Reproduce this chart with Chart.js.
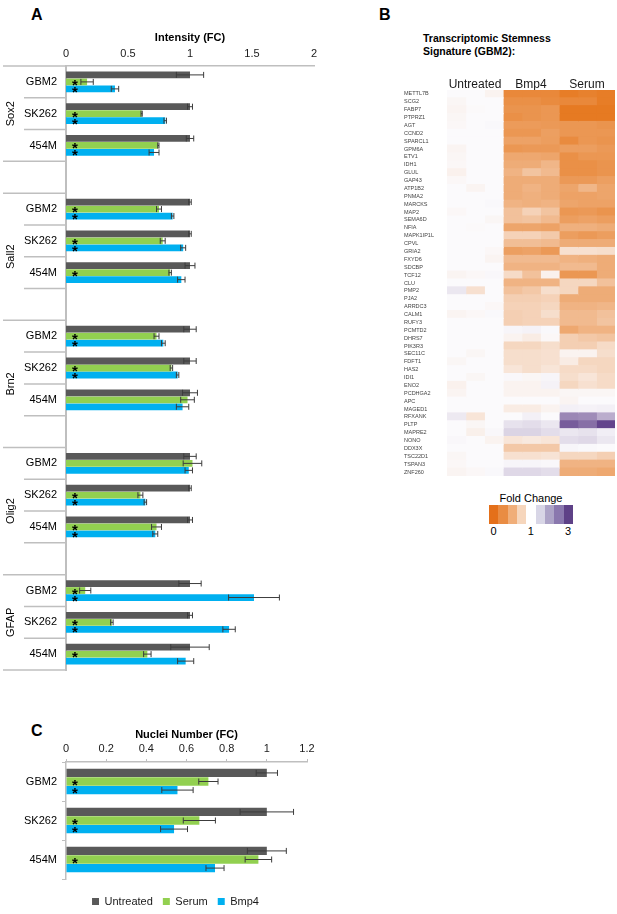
<!DOCTYPE html>
<html><head><meta charset="utf-8">
<script src="https://cdn.jsdelivr.net/npm/chart.js@4.4.1/dist/chart.umd.min.js"></script>
<style>
html,body{margin:0;padding:0;background:#fff;}
body{width:617px;height:914px;position:relative;overflow:hidden;font-family:"Liberation Sans",Arial,sans-serif;color:#000;}
canvas{position:absolute;}
.pl{position:absolute;font-weight:bold;font-size:16px;line-height:16px;}
.t{position:absolute;white-space:nowrap;}
</style></head><body>
<div class="pl" style="left:31px;top:7px">A</div>
<div class="pl" style="left:379px;top:7px">B</div>
<div class="pl" style="left:31px;top:723px">C</div>
<div class="t" style="left:423px;top:32px;font-weight:bold;font-size:10.5px;line-height:13px">Transcriptomic Stemness<br>Signature (GBM2):</div>
<div class="t" style="left:489px;top:492px;width:84px;text-align:center;font-size:11px;line-height:12px">Fold Change</div>
<div id="fckey" style="position:absolute;left:489px;top:505px;height:19px;display:flex"></div>
<div id="fcticks"></div>
<canvas id="ca" width="330" height="690" style="left:0;top:0"></canvas>
<canvas id="cb" width="237" height="480" style="left:380px;top:0"></canvas>
<canvas id="cc" width="330" height="220" style="left:0;top:700px"></canvas>
<script>
// ---------- Panel A data ----------
const labelsA = ['GBM2','SK262','454M','', 'GBM2','SK262','454M','', 'GBM2','SK262','454M','', 'GBM2','SK262','454M','', 'GBM2','SK262','454M'];
const markersA = ['Sox2','Sall2','Brn2','Olig2','GFAP'];
const markerFirstA = [0,4,8,12,16];
const markerLastA  = [2,7,11,15,18];
const groupBoundaryAfterA = [-1,2,3,7,11,15,18];
const untreatedA    = [1.00,1.00,1.00,null, 1.00,1.00,1.00,null, 1.00,1.00,1.00,null, 1.00,1.00,1.00,null, 1.00,1.00,1.00];
const untreatedErrA = [0.11,0.02,0.03,null, 0.01,0.01,0.04,null, 0.05,0.05,0.06,null, 0.05,0.01,0.02,null, 0.09,0.02,0.155];
const serumA        = [0.17,0.61,0.745,null, 0.75,0.78,0.84,null, 0.73,0.85,0.98,null, 1.02,0.60,0.73,null, 0.155,0.37,0.656];
const serumErrA     = [0.05,0.005,0.005,null, 0.02,0.02,0.01,null, 0.02,0.01,0.055,null, 0.075,0.02,0.04,null, 0.045,0.01,0.03];
const bmp4A         = [0.395,0.80,0.71,null, 0.86,0.945,0.93,null, 0.785,0.90,0.94,null, 0.99,0.64,0.72,null, 1.516,1.315,0.965];
const bmp4ErrA      = [0.03,0.01,0.04,null, 0.01,0.02,0.03,null, 0.015,0.01,0.05,null, 0.03,0.01,0.02,null, 0.205,0.05,0.065];
const serumSigA     = [1,1,1,0, 1,1,1,0, 1,1,0,0, 0,1,1,0, 1,1,1];
const bmp4SigA      = [1,1,1,0, 1,1,0,0, 1,1,0,0, 0,1,1,0, 1,1,0];
const ticksA = ['0','0.5','1','1.5','2'];

// ---------- Panel C data ----------
const labelsC = ['GBM2','SK262','454M'];
const untreatedC    = [1.00,1.00,1.00];
const untreatedErrC = [0.053,0.133,0.097];
const serumC        = [0.709,0.664,0.958];
const serumErrC     = [0.048,0.08,0.066];
const bmp4C         = [0.555,0.538,0.742];
const bmp4ErrC      = [0.078,0.067,0.045];
const serumSigC     = [1,1,1];
const bmp4SigC      = [1,1,0];

// ---------- Panel B data ----------
const genes = ['METTL7B','SCG2','FABP7','PTPRZ1','AGT','CCND2','SPARCL1','GPM6A','ETV1','IDH1','GLUL','GAP43','ATP1B2','PNMA2','MARCKS','MAP2','SEMA6D','NFIA','MAPK1IP1L','CPVL','GRIA2','FXYD6','SDCBP','TCF12','CLU','PMP2','PJA2','ARRDC3','CALM1','RUFY3','PCMTD2','DHRS7','PIK3R3','SEC11C','FDFT1','HAS2','IDI1','ENO2','PCDHGA2','APC','MAGED1','RFXANK','PLTP','MAPRE2','NONO','DDX3X','TSC22D1','TSPAN3','ZNF260'];
const conditions = ['Untreated','Bmp4','Serum'];
const untreatedFC = [[1.0,1.0,0.95],[0.97,1.0,1.0],[0.96,0.99,1.0],[0.97,1.0,1.0],[0.98,1.0,1.02],[1.0,1.0,1.0],[1.0,1.0,1.0],[0.96,1.0,1.0],[0.97,1.0,1.0],[0.98,1.0,1.0],[0.94,1.0,1.0],[0.98,1.0,1.0],[1.0,0.96,1.0],[1.0,1.0,1.0],[1.0,1.0,1.02],[0.98,1.0,1.0],[1.0,1.0,0.97],[1.0,0.99,1.0],[1.0,1.0,1.0],[1.0,1.0,1.0],[1.0,1.0,0.98],[1.0,1.0,0.96],[1.0,1.0,1.0],[0.96,0.98,1.03],[1.0,1.0,1.0],[1.2,0.82,1.0],[1.0,1.0,1.0],[1.0,1.0,0.98],[0.96,0.98,1.02],[1.0,1.0,1.0],[1.0,1.0,1.0],[1.0,1.0,1.0],[1.0,1.0,1.0],[1.0,0.97,1.0],[0.97,1.0,1.0],[1.0,1.0,1.0],[1.0,0.97,1.0],[0.94,1.0,1.0],[0.96,1.0,1.0],[1.0,1.0,1.0],[1.0,1.0,1.0],[1.18,0.85,1.0],[1.0,0.97,1.0],[1.0,0.93,1.03],[1.03,1.0,0.95],[1.0,1.0,1.0],[0.97,1.0,1.0],[0.98,1.0,1.0],[0.96,0.98,1.02]];
const bmp4FC = [[0.2,0.2,0.2],[0.25,0.25,0.22],[0.28,0.28,0.3],[0.25,0.28,0.3],[0.33,0.33,0.32],[0.3,0.3,0.36],[0.38,0.38,0.35],[0.3,0.32,0.32],[0.42,0.42,0.4],[0.45,0.45,0.52],[0.5,0.62,0.55],[0.45,0.45,0.45],[0.45,0.5,0.45],[0.45,0.48,0.45],[0.5,0.48,0.5],[0.6,0.72,0.62],[0.6,0.62,0.55],[0.4,0.4,0.38],[0.72,0.72,0.66],[0.58,0.58,0.55],[0.36,0.38,0.32],[0.55,0.55,0.55],[0.5,0.5,0.5],[0.78,0.6,0.94],[0.5,0.5,0.5],[0.6,0.65,0.8],[0.7,0.7,0.72],[0.72,0.72,0.75],[0.7,0.72,0.8],[0.7,0.72,0.72],[1.05,1.08,1.02],[0.95,0.9,0.98],[0.75,0.75,0.8],[0.8,0.8,0.82],[0.8,0.8,0.82],[0.85,0.8,0.85],[1.03,0.97,1.05],[0.95,0.95,1.08],[0.95,0.95,0.95],[1.0,1.0,1.0],[0.9,0.9,0.95],[1.0,1.1,1.0],[1.25,1.3,1.2],[1.4,1.4,1.3],[0.85,0.88,0.85],[0.65,0.65,0.65],[0.82,0.82,0.84],[1.05,1.05,1.03],[1.35,1.35,1.3]];
const serumFC = [[0.12,0.15,0.12],[0.2,0.2,0.12],[0.1,0.1,0.1],[0.1,0.1,0.1],[0.3,0.3,0.28],[0.3,0.3,0.3],[0.22,0.3,0.28],[0.35,0.35,0.32],[0.25,0.3,0.3],[0.25,0.25,0.28],[0.25,0.25,0.28],[0.32,0.32,0.36],[0.4,0.52,0.4],[0.38,0.38,0.4],[0.4,0.38,0.38],[0.3,0.32,0.28],[0.35,0.38,0.35],[0.48,0.48,0.45],[0.35,0.32,0.35],[0.45,0.45,0.45],[0.82,0.82,0.8],[0.5,0.48,0.45],[0.55,0.55,0.45],[0.3,0.3,0.45],[0.75,0.75,0.6],[0.75,0.45,0.45],[0.45,0.45,0.45],[0.5,0.5,0.52],[0.55,0.55,0.6],[0.55,0.55,0.62],[0.42,0.5,0.5],[0.7,0.65,0.62],[0.7,0.7,0.78],[0.95,0.95,0.8],[0.9,0.75,0.75],[0.78,0.78,0.75],[0.8,0.85,0.78],[0.75,0.82,0.78],[0.97,0.97,0.97],[0.96,1.0,1.0],[1.1,1.08,1.1],[2.2,2.15,1.8],[2.65,2.45,2.9],[1.2,1.25,1.12],[1.3,1.35,1.2],[1.05,1.02,1.0],[0.75,0.75,0.7],[0.5,0.5,0.5],[0.45,0.45,0.42]];
const fcKeyColors = ['#E4701A','#E98C43','#F0AE79','#F6D6BC','#FFFFFF','#D8D6E6','#ADA4C7','#8A78AE','#5E4187'];
const fcKeyLabels = ['0','','','','1','','','','3'];

// ---------- colours ----------
const COL_UNT = '#595959', COL_SER = '#92D050', COL_BMP = '#00B0F0';
const WHITE=[251,250,252], ORANGE=[228,108,10], PURPLE=[91,58,134];
function mix(a,b,t){return 'rgb('+a.map((v,i)=>Math.round(v+(b[i]-v)*t)).join(',')+')';}
function fcColor(v){
  if(v<=1){const t=Math.min(1,Math.max(0,1-v));return mix(WHITE,ORANGE,t);}
  const t=Math.min(1,(v-1)/2);return mix(WHITE,PURPLE,t);
}
const FONT = '"Liberation Sans", Arial, sans-serif';
Chart.defaults.font.family = FONT;
Chart.defaults.color = '#000';

// ---------- plugins ----------
const errPlugin = {
  id:'errbars',
  afterDatasetsDraw(chart){
    const {ctx} = chart; const x = chart.scales.x;
    const x0 = x.getPixelForValue(0);
    chart.data.datasets.forEach((ds,di)=>{
      const meta = chart.getDatasetMeta(di);
      meta.data.forEach((bar,i)=>{
        const v = ds.data[i]; if(v==null) return;
        const e = ds.errors[i]; const y = bar.y;
        const xa = x.getPixelForValue(v-e), xb = x.getPixelForValue(v+e);
        ctx.save();
        ctx.strokeStyle = '#3c3c3c'; ctx.lineWidth = 1;
        ctx.beginPath();
        ctx.moveTo(xa,y); ctx.lineTo(xb,y);
        ctx.moveTo(xa,y-3); ctx.lineTo(xa,y+3);
        ctx.moveTo(xb,y-3); ctx.lineTo(xb,y+3);
        ctx.stroke();
        if(ds.sig && ds.sig[i]){
          ctx.fillStyle='#000'; ctx.font='bold 15px '+FONT;
          ctx.textAlign='center'; ctx.textBaseline='alphabetic';
          ctx.fillText('*', x0+9, y+8);
        }
        ctx.restore();
      });
    });
  }
};
const groupPlugin = {
  id:'groups',
  afterDraw(chart){
    const {ctx, chartArea} = chart; const y = chart.scales.y;
    const n = chart.data.labels.length;
    const half = (y.getPixelForTick(1)-y.getPixelForTick(0))/2;
    ctx.save();
    ctx.strokeStyle = '#BFBFBF'; ctx.lineWidth = 1.5;
    for(let i=-1;i<n;i++){
      const py = i<0 ? y.getPixelForTick(0)-half : y.getPixelForTick(i)+half;
      const isLong = groupBoundaryAfterA.includes(i);
      ctx.beginPath(); ctx.moveTo(isLong?3:24, py); ctx.lineTo(chartArea.left, py); ctx.stroke();
    }
    ctx.fillStyle='#000'; ctx.font='11px '+FONT; ctx.textAlign='center'; ctx.textBaseline='middle';
    markersA.forEach((m,k)=>{
      const cy = (y.getPixelForTick(markerFirstA[k])+y.getPixelForTick(markerLastA[k]))/2;
      ctx.save(); ctx.translate(11, cy); ctx.rotate(-Math.PI/2); ctx.fillText(m,0,0); ctx.restore();
    });
    ctx.restore();
  }
};
// nudges the legend box of chart C so it sits centred under the panel
const legendShift = {
  id:'legendShift',
  afterLayout(chart){ const l = chart.legend; if(l){ l.left += 22; l.right += 22; l.top += 7; l.bottom += 7; } }
};

// ---------- Chart A ----------
new Chart(document.getElementById('ca'), {
  type:'bar',
  data:{labels:labelsA, datasets:[
    {label:'Untreated', data:untreatedA, errors:untreatedErrA, backgroundColor:COL_UNT},
    {label:'Serum', data:serumA, errors:serumErrA, sig:serumSigA, backgroundColor:COL_SER},
    {label:'Bmp4', data:bmp4A, errors:bmp4ErrA, sig:bmp4SigA, backgroundColor:COL_BMP}
  ]},
  plugins:[errPlugin, groupPlugin],
  options:{
    responsive:false, animation:false, indexAxis:'y',
    layout:{padding:{left:0,right:16,top:0,bottom:20}},
    datasets:{bar:{categoryPercentage:0.66, barPercentage:0.97}},
    plugins:{legend:{display:false}, tooltip:{enabled:false}},
    scales:{
      x:{position:'top', min:0, max:2,
        afterBuildTicks(s){ s.ticks = ticksA.map(t=>({value:parseFloat(t)})); },
        ticks:{font:{size:11}, color:'#1a1a1a', padding:5, callback:(v,i)=>ticksA[i]},
        grid:{display:false, drawTicks:false}, border:{display:true, color:'#BFBFBF', width:1.5},
        title:{display:true, text:'Intensity (FC)', font:{size:11, weight:'bold'}, color:'#000', padding:{top:31,bottom:0}},
        afterFit(s){ s.height = 66; }
      },
      y:{ticks:{font:{size:11}, color:'#000', padding:9, autoSkip:false},
        grid:{display:false, drawTicks:false}, border:{display:true, color:'#BFBFBF', width:2},
        afterFit(s){ s.width = 66; }
      }
    }
  }
});

// ---------- Chart C ----------
new Chart(document.getElementById('cc'), {
  type:'bar',
  data:{labels:labelsC, datasets:[
    {label:'Untreated', data:untreatedC, errors:untreatedErrC, backgroundColor:COL_UNT},
    {label:'Serum', data:serumC, errors:serumErrC, sig:serumSigC, backgroundColor:COL_SER},
    {label:'Bmp4', data:bmp4C, errors:bmp4ErrC, sig:bmp4SigC, backgroundColor:COL_BMP}
  ]},
  plugins:[errPlugin, legendShift],
  options:{
    responsive:false, animation:false, indexAxis:'y',
    layout:{padding:{left:0,right:23,top:0,bottom:10}},
    datasets:{bar:{categoryPercentage:0.66, barPercentage:0.97}},
    plugins:{tooltip:{enabled:false},
      legend:{position:'bottom', labels:{boxWidth:7, boxHeight:7, font:{size:11}, color:'#1a1a1a', padding:10}}
    },
    scales:{
      x:{position:'top', min:0, max:1.2,
        ticks:{stepSize:0.2, font:{size:11}, color:'#1a1a1a', padding:3, callback:(v)=>+v.toFixed(1)},
        grid:{display:true, drawOnChartArea:false, drawTicks:true, tickLength:3, color:'#BFBFBF'},
        border:{display:true, color:'#BFBFBF', width:1.5},
        title:{display:true, text:'Nuclei Number (FC)', font:{size:11, weight:'bold'}, color:'#000', padding:{top:28,bottom:0}},
        afterFit(s){ s.height = 62; }
      },
      y:{ticks:{font:{size:11}, color:'#000', padding:5},
        grid:{display:true, offset:true, drawOnChartArea:false, drawTicks:true, tickLength:4, color:'#BFBFBF'},
        border:{display:true, color:'#BFBFBF', width:1.5},
        afterFit(s){ s.width = 66; }
      }
    }
  }
});

// ---------- Chart B (heatmap) ----------
const fcByCond = [untreatedFC, bmp4FC, serumFC];
const hmDatasets = [];
conditions.forEach((c,ci)=>{
  for(let r=0;r<3;r++){
    hmDatasets.push({
      label:c+' '+(r+1),
      data:genes.map(()=>1),
      backgroundColor:(ctx)=>fcColor(fcByCond[ci][ctx.dataIndex][r]),
      borderWidth:0, inflateAmount:0.6
    });
  }
});
new Chart(document.getElementById('cb'), {
  type:'bar',
  data:{labels:genes, datasets:hmDatasets},
  options:{
    responsive:false, animation:false, indexAxis:'y',
    layout:{padding:{left:24,right:2,top:68,bottom:4}},
    datasets:{bar:{categoryPercentage:1, barPercentage:1}},
    plugins:{legend:{display:false}, tooltip:{enabled:false}},
    scales:{
      x:{type:'linear', position:'top', stacked:true, min:0, max:9,
        afterBuildTicks(s){ s.ticks = conditions.map((c,i)=>({value:i*3+1.5})); },
        ticks:{font:{size:12}, color:'#1a1a1a', padding:-2, autoSkip:false, maxRotation:0, callback:(v,i)=>conditions[i]},
        grid:{display:false, drawTicks:false}, border:{display:false},
        afterFit(s){ s.height = 22; }
      },
      y:{stacked:true,
        ticks:{font:{size:5.5}, color:'#444', padding:0, autoSkip:false, crossAlign:'far'},
        grid:{display:false, drawTicks:false}, border:{display:false},
        afterFit(s){ s.width = 43; }
      }
    }
  }
});

// ---------- Fold change key ----------
const key = document.getElementById('fckey');
const tk = document.getElementById('fcticks');
fcKeyColors.forEach((c,i)=>{
  const d=document.createElement('div');
  d.style.cssText='width:9.33px;height:19px;background:'+c;
  key.appendChild(d);
  if(fcKeyLabels[i]){
    const t=document.createElement('div');
    t.className='t';
    t.style.cssText='left:'+(489+9.33*i-6)+'px;top:525px;width:21px;text-align:center;font-size:11px;line-height:12px';
    t.textContent=fcKeyLabels[i];
    tk.appendChild(t);
  }
});
</script>
</body></html>
